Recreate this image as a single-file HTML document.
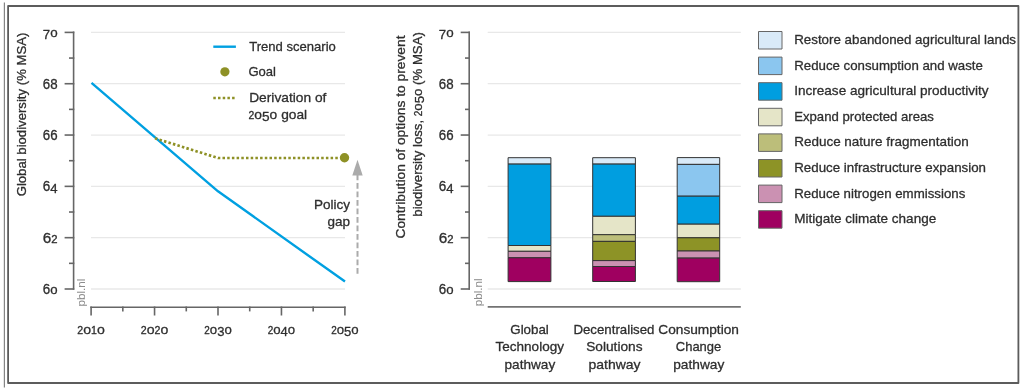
<!DOCTYPE html><html><head><meta charset="utf-8"><style>html,body{margin:0;padding:0;background:#fff;width:1024px;height:390px;overflow:hidden;position:relative} svg{will-change:transform} text{stroke:#2e2e2e;stroke-width:0.3}</style></head><body><svg width="1024" height="390" viewBox="0 0 1024 390" style="position:absolute;left:0;top:0;font-family:'Liberation Sans',sans-serif"><g stroke-linejoin="round">
<line x1="4.4" y1="2.5" x2="4.4" y2="387.5" stroke="#858585" stroke-width="1.2"/>
<rect x="8.1" y="6" width="1010.3" height="377" fill="none" stroke="#5c5c5c" stroke-width="1.8"/>
<line x1="91" y1="32.40" x2="345" y2="32.40" stroke="#e8e8e8" stroke-width="1.3"/>
<line x1="64.6" y1="32.40" x2="74.3" y2="32.40" stroke="#666" stroke-width="1.6"/>
<text x="57.6" y="37.30" font-size="14" fill="#2e2e2e" text-anchor="end" textLength="14.8" lengthAdjust="spacingAndGlyphs"><tspan font-size="13.4" dy="2.00">7</tspan><tspan font-size="13.6" dy="-2.00">o</tspan></text>
<line x1="91" y1="83.72" x2="345" y2="83.72" stroke="#e8e8e8" stroke-width="1.3"/>
<line x1="64.6" y1="83.72" x2="74.3" y2="83.72" stroke="#666" stroke-width="1.6"/>
<text x="57.6" y="88.62" font-size="14" fill="#2e2e2e" text-anchor="end" textLength="14.8" lengthAdjust="spacingAndGlyphs"><tspan font-size="13.8">6</tspan><tspan font-size="13.8">8</tspan></text>
<line x1="91" y1="135.04" x2="345" y2="135.04" stroke="#e8e8e8" stroke-width="1.3"/>
<line x1="64.6" y1="135.04" x2="74.3" y2="135.04" stroke="#666" stroke-width="1.6"/>
<text x="57.6" y="139.94" font-size="14" fill="#2e2e2e" text-anchor="end" textLength="14.8" lengthAdjust="spacingAndGlyphs"><tspan font-size="13.8">6</tspan><tspan font-size="13.8">6</tspan></text>
<line x1="91" y1="186.36" x2="345" y2="186.36" stroke="#e8e8e8" stroke-width="1.3"/>
<line x1="64.6" y1="186.36" x2="74.3" y2="186.36" stroke="#666" stroke-width="1.6"/>
<text x="57.6" y="191.26" font-size="14" fill="#2e2e2e" text-anchor="end" textLength="14.8" lengthAdjust="spacingAndGlyphs"><tspan font-size="13.8">6</tspan><tspan font-size="13.4" dy="2.00">4</tspan></text>
<line x1="91" y1="237.68" x2="345" y2="237.68" stroke="#e8e8e8" stroke-width="1.3"/>
<line x1="64.6" y1="237.68" x2="74.3" y2="237.68" stroke="#666" stroke-width="1.6"/>
<text x="57.6" y="242.58" font-size="14" fill="#2e2e2e" text-anchor="end" textLength="14.8" lengthAdjust="spacingAndGlyphs"><tspan font-size="13.8">6</tspan><tspan font-size="10.2">2</tspan></text>
<line x1="91" y1="289.00" x2="345" y2="289.00" stroke="#e8e8e8" stroke-width="1.3"/>
<line x1="64.6" y1="289.00" x2="74.3" y2="289.00" stroke="#666" stroke-width="1.6"/>
<text x="57.6" y="293.90" font-size="14" fill="#2e2e2e" text-anchor="end" textLength="14.8" lengthAdjust="spacingAndGlyphs"><tspan font-size="13.8">6</tspan><tspan font-size="13.6">o</tspan></text>
<line x1="69" y1="58.06" x2="74.3" y2="58.06" stroke="#666" stroke-width="1.6"/>
<line x1="69" y1="109.38" x2="74.3" y2="109.38" stroke="#666" stroke-width="1.6"/>
<line x1="69" y1="160.70" x2="74.3" y2="160.70" stroke="#666" stroke-width="1.6"/>
<line x1="69" y1="212.02" x2="74.3" y2="212.02" stroke="#666" stroke-width="1.6"/>
<line x1="69" y1="263.34" x2="74.3" y2="263.34" stroke="#666" stroke-width="1.6"/>
<line x1="73.6" y1="31.60" x2="73.6" y2="289.80" stroke="#666" stroke-width="1.6"/>
<line x1="90.3" y1="307.3" x2="345.6" y2="307.3" stroke="#666" stroke-width="1.6"/>
<line x1="91.10" y1="306.5" x2="91.10" y2="315.5" stroke="#666" stroke-width="1.6"/>
<text x="91.10" y="334" font-size="10" fill="#2e2e2e" text-anchor="middle" textLength="27.5" lengthAdjust="spacingAndGlyphs"><tspan font-size="10.2">2</tspan><tspan font-size="13.6">o</tspan><tspan font-size="10.2">1</tspan><tspan font-size="13.6">o</tspan></text>
<line x1="122.82" y1="306.5" x2="122.82" y2="311.4" stroke="#666" stroke-width="1.6"/>
<line x1="154.55" y1="306.5" x2="154.55" y2="315.5" stroke="#666" stroke-width="1.6"/>
<text x="154.55" y="334" font-size="10" fill="#2e2e2e" text-anchor="middle" textLength="27.5" lengthAdjust="spacingAndGlyphs"><tspan font-size="10.2">2</tspan><tspan font-size="13.6">o</tspan><tspan font-size="10.2">2</tspan><tspan font-size="13.6">o</tspan></text>
<line x1="186.28" y1="306.5" x2="186.28" y2="311.4" stroke="#666" stroke-width="1.6"/>
<line x1="218.00" y1="306.5" x2="218.00" y2="315.5" stroke="#666" stroke-width="1.6"/>
<text x="218.00" y="334" font-size="10" fill="#2e2e2e" text-anchor="middle" textLength="27.5" lengthAdjust="spacingAndGlyphs"><tspan font-size="10.2">2</tspan><tspan font-size="13.6">o</tspan><tspan font-size="13.4" dy="2.00">3</tspan><tspan font-size="13.6" dy="-2.00">o</tspan></text>
<line x1="249.72" y1="306.5" x2="249.72" y2="311.4" stroke="#666" stroke-width="1.6"/>
<line x1="281.45" y1="306.5" x2="281.45" y2="315.5" stroke="#666" stroke-width="1.6"/>
<text x="281.45" y="334" font-size="10" fill="#2e2e2e" text-anchor="middle" textLength="27.5" lengthAdjust="spacingAndGlyphs"><tspan font-size="10.2">2</tspan><tspan font-size="13.6">o</tspan><tspan font-size="13.4" dy="2.00">4</tspan><tspan font-size="13.6" dy="-2.00">o</tspan></text>
<line x1="313.18" y1="306.5" x2="313.18" y2="311.4" stroke="#666" stroke-width="1.6"/>
<line x1="344.90" y1="306.5" x2="344.90" y2="315.5" stroke="#666" stroke-width="1.6"/>
<text x="344.90" y="334" font-size="10" fill="#2e2e2e" text-anchor="middle" textLength="27.5" lengthAdjust="spacingAndGlyphs"><tspan font-size="10.2">2</tspan><tspan font-size="13.6">o</tspan><tspan font-size="13.4" dy="2.00">5</tspan><tspan font-size="13.6" dy="-2.00">o</tspan></text>
<text transform="translate(26,114.5) rotate(-90)" font-size="13.5" fill="#2e2e2e" text-anchor="middle" textLength="163.7" lengthAdjust="spacingAndGlyphs">Global biodiversity (% MSA)</text>
<text transform="translate(85.4,306.4) rotate(-90)" font-size="11" fill="#8c8c8c" style="stroke-width:0" textLength="27.7" lengthAdjust="spacingAndGlyphs">pbl.nl</text>
<polyline points="91.5,82.9 218,191.3 345,281.6" fill="none" stroke="#00a0e1" stroke-width="2.4" stroke-linejoin="round"/>
<polyline points="155,138.3 218,158 340,158" fill="none" stroke="#8e9126" stroke-width="2.7" stroke-dasharray="2.5 2.2"/>
<circle cx="344.5" cy="157.8" r="4.7" fill="#8e9126"/>
<line x1="357.5" y1="174.5" x2="357.5" y2="276" stroke="#ababab" stroke-width="2" stroke-dasharray="5.8 2.7"/>
<polygon points="357.5,159.7 352.3,175.5 362.7,175.5" fill="#ababab"/>
<text x="350" y="209.3" font-size="13.5" fill="#2e2e2e" text-anchor="end">Policy</text>
<text x="350" y="225.6" font-size="13.5" fill="#2e2e2e" text-anchor="end">gap</text>
<line x1="213.3" y1="46.7" x2="235.9" y2="46.7" stroke="#00a0e1" stroke-width="2.4"/>
<text x="249.2" y="51" font-size="13.5" fill="#2e2e2e" textLength="86.7" lengthAdjust="spacingAndGlyphs">Trend scenario</text>
<circle cx="224.9" cy="71.8" r="4.6" fill="#8e9126"/>
<text x="248.4" y="76.2" font-size="13.5" fill="#2e2e2e" textLength="27.6" lengthAdjust="spacingAndGlyphs">Goal</text>
<line x1="213.3" y1="98" x2="236" y2="98" stroke="#8e9126" stroke-width="2.7" stroke-dasharray="2.5 2.2"/>
<text x="249.2" y="102.3" font-size="13.5" fill="#2e2e2e" textLength="77.2" lengthAdjust="spacingAndGlyphs">Derivation of</text>
<text x="248.6" y="119" font-size="13.5" fill="#2e2e2e" textLength="58.5" lengthAdjust="spacingAndGlyphs"><tspan font-size="10.2">2</tspan><tspan font-size="13.6">o</tspan><tspan font-size="13.4" dy="2.00">5</tspan><tspan font-size="13.6" dy="-2.00">o</tspan><tspan font-size="13.5" dy="0"> goal</tspan></text>
<line x1="487.7" y1="32.40" x2="740.8" y2="32.40" stroke="#e8e8e8" stroke-width="1.3"/>
<line x1="460.7" y1="32.40" x2="469.9" y2="32.40" stroke="#666" stroke-width="1.6"/>
<text x="453.6" y="37.30" font-size="14" fill="#2e2e2e" text-anchor="end" textLength="14.8" lengthAdjust="spacingAndGlyphs"><tspan font-size="13.4" dy="2.00">7</tspan><tspan font-size="13.6" dy="-2.00">o</tspan></text>
<line x1="487.7" y1="83.72" x2="740.8" y2="83.72" stroke="#e8e8e8" stroke-width="1.3"/>
<line x1="460.7" y1="83.72" x2="469.9" y2="83.72" stroke="#666" stroke-width="1.6"/>
<text x="453.6" y="88.62" font-size="14" fill="#2e2e2e" text-anchor="end" textLength="14.8" lengthAdjust="spacingAndGlyphs"><tspan font-size="13.8">6</tspan><tspan font-size="13.8">8</tspan></text>
<line x1="487.7" y1="135.04" x2="740.8" y2="135.04" stroke="#e8e8e8" stroke-width="1.3"/>
<line x1="460.7" y1="135.04" x2="469.9" y2="135.04" stroke="#666" stroke-width="1.6"/>
<text x="453.6" y="139.94" font-size="14" fill="#2e2e2e" text-anchor="end" textLength="14.8" lengthAdjust="spacingAndGlyphs"><tspan font-size="13.8">6</tspan><tspan font-size="13.8">6</tspan></text>
<line x1="487.7" y1="186.36" x2="740.8" y2="186.36" stroke="#e8e8e8" stroke-width="1.3"/>
<line x1="460.7" y1="186.36" x2="469.9" y2="186.36" stroke="#666" stroke-width="1.6"/>
<text x="453.6" y="191.26" font-size="14" fill="#2e2e2e" text-anchor="end" textLength="14.8" lengthAdjust="spacingAndGlyphs"><tspan font-size="13.8">6</tspan><tspan font-size="13.4" dy="2.00">4</tspan></text>
<line x1="487.7" y1="237.68" x2="740.8" y2="237.68" stroke="#e8e8e8" stroke-width="1.3"/>
<line x1="460.7" y1="237.68" x2="469.9" y2="237.68" stroke="#666" stroke-width="1.6"/>
<text x="453.6" y="242.58" font-size="14" fill="#2e2e2e" text-anchor="end" textLength="14.8" lengthAdjust="spacingAndGlyphs"><tspan font-size="13.8">6</tspan><tspan font-size="10.2">2</tspan></text>
<line x1="487.7" y1="289.00" x2="740.8" y2="289.00" stroke="#e8e8e8" stroke-width="1.3"/>
<line x1="460.7" y1="289.00" x2="469.9" y2="289.00" stroke="#666" stroke-width="1.6"/>
<text x="453.6" y="293.90" font-size="14" fill="#2e2e2e" text-anchor="end" textLength="14.8" lengthAdjust="spacingAndGlyphs"><tspan font-size="13.8">6</tspan><tspan font-size="13.6">o</tspan></text>
<line x1="465" y1="58.06" x2="469.9" y2="58.06" stroke="#666" stroke-width="1.6"/>
<line x1="465" y1="109.38" x2="469.9" y2="109.38" stroke="#666" stroke-width="1.6"/>
<line x1="465" y1="160.70" x2="469.9" y2="160.70" stroke="#666" stroke-width="1.6"/>
<line x1="465" y1="212.02" x2="469.9" y2="212.02" stroke="#666" stroke-width="1.6"/>
<line x1="465" y1="263.34" x2="469.9" y2="263.34" stroke="#666" stroke-width="1.6"/>
<line x1="469.2" y1="31.60" x2="469.2" y2="289.80" stroke="#666" stroke-width="1.6"/>
<line x1="487.7" y1="306.9" x2="740.8" y2="306.9" stroke="#737373" stroke-width="1.6"/>
<text transform="translate(405.1,137) rotate(-90)" font-size="13.5" fill="#2e2e2e" text-anchor="middle" textLength="203" lengthAdjust="spacingAndGlyphs">Contribution of options to prevent</text>
<text transform="translate(422,124.4) rotate(-90)" font-size="13.5" fill="#2e2e2e" text-anchor="middle" textLength="184.6" lengthAdjust="spacingAndGlyphs">biodiversity loss, <tspan font-size="10.2">2</tspan><tspan font-size="13.6">o</tspan><tspan font-size="13.4" dy="2.00">5</tspan><tspan font-size="13.6" dy="-2.00">o</tspan><tspan font-size="13.5"> (% MSA)</tspan></text>
<text transform="translate(481.8,306.2) rotate(-90)" font-size="11" fill="#8c8c8c" style="stroke-width:0" textLength="27.7" lengthAdjust="spacingAndGlyphs">pbl.nl</text>
<rect x="508.10" y="157.70" width="42.80" height="6.40" fill="#d9eaf8" stroke="#333" stroke-width="1"/>
<rect x="508.10" y="164.10" width="42.80" height="81.40" fill="#009ee0" stroke="#333" stroke-width="1"/>
<rect x="508.10" y="245.50" width="42.80" height="5.80" fill="#e5e5c8" stroke="#333" stroke-width="1"/>
<rect x="508.10" y="251.30" width="42.80" height="6.50" fill="#cb91b2" stroke="#333" stroke-width="1"/>
<rect x="508.10" y="257.80" width="42.80" height="23.80" fill="#9f0060" stroke="#333" stroke-width="1"/>
<rect x="592.70" y="157.70" width="42.70" height="6.40" fill="#d9eaf8" stroke="#333" stroke-width="1"/>
<rect x="592.70" y="164.10" width="42.70" height="52.20" fill="#009ee0" stroke="#333" stroke-width="1"/>
<rect x="592.70" y="216.30" width="42.70" height="18.40" fill="#e5e5c8" stroke="#333" stroke-width="1"/>
<rect x="592.70" y="234.70" width="42.70" height="6.70" fill="#bcbe7a" stroke="#333" stroke-width="1"/>
<rect x="592.70" y="241.40" width="42.70" height="19.20" fill="#8d9326" stroke="#333" stroke-width="1"/>
<rect x="592.70" y="260.60" width="42.70" height="5.90" fill="#cb91b2" stroke="#333" stroke-width="1"/>
<rect x="592.70" y="266.50" width="42.70" height="15.00" fill="#9f0060" stroke="#333" stroke-width="1"/>
<rect x="677.20" y="157.60" width="42.50" height="6.80" fill="#d9eaf8" stroke="#333" stroke-width="1"/>
<rect x="677.20" y="164.40" width="42.50" height="31.80" fill="#8bc6ef" stroke="#333" stroke-width="1"/>
<rect x="677.20" y="196.20" width="42.50" height="28.00" fill="#009ee0" stroke="#333" stroke-width="1"/>
<rect x="677.20" y="224.20" width="42.50" height="13.60" fill="#e5e5c8" stroke="#333" stroke-width="1"/>
<rect x="677.20" y="237.80" width="42.50" height="13.20" fill="#8d9326" stroke="#333" stroke-width="1"/>
<rect x="677.20" y="251.00" width="42.50" height="7.10" fill="#cb91b2" stroke="#333" stroke-width="1"/>
<rect x="677.20" y="258.10" width="42.50" height="23.60" fill="#9f0060" stroke="#333" stroke-width="1"/>
<text x="529.55" y="334.00" font-size="13.5" fill="#2e2e2e" text-anchor="middle" textLength="38.5" lengthAdjust="spacingAndGlyphs">Global</text>
<text x="529.75" y="351.40" font-size="13.5" fill="#2e2e2e" text-anchor="middle" textLength="68.5" lengthAdjust="spacingAndGlyphs">Technology</text>
<text x="529.85" y="368.80" font-size="13.5" fill="#2e2e2e" text-anchor="middle" textLength="50.7" lengthAdjust="spacingAndGlyphs">pathway</text>
<text x="613.95" y="334.00" font-size="13.5" fill="#2e2e2e" text-anchor="middle" textLength="81.1" lengthAdjust="spacingAndGlyphs">Decentralised</text>
<text x="614.35" y="351.40" font-size="13.5" fill="#2e2e2e" text-anchor="middle" textLength="56.3" lengthAdjust="spacingAndGlyphs">Solutions</text>
<text x="614.50" y="368.80" font-size="13.5" fill="#2e2e2e" text-anchor="middle" textLength="52.0" lengthAdjust="spacingAndGlyphs">pathway</text>
<text x="698.60" y="334.00" font-size="13.5" fill="#2e2e2e" text-anchor="middle" textLength="80.6" lengthAdjust="spacingAndGlyphs">Consumption</text>
<text x="698.55" y="351.40" font-size="13.5" fill="#2e2e2e" text-anchor="middle" textLength="45.5" lengthAdjust="spacingAndGlyphs">Change</text>
<text x="698.75" y="368.80" font-size="13.5" fill="#2e2e2e" text-anchor="middle" textLength="51.1" lengthAdjust="spacingAndGlyphs">pathway</text>
<rect x="758.5" y="31.50" width="23.5" height="17.5" fill="#d9eaf8" stroke="#666" stroke-width="1"/>
<text x="794.2" y="44.20" font-size="13.5" fill="#2e2e2e" textLength="221.8" lengthAdjust="spacingAndGlyphs">Restore abandoned agricultural lands</text>
<rect x="758.5" y="57.10" width="23.5" height="17.5" fill="#8bc6ef" stroke="#666" stroke-width="1"/>
<text x="794.2" y="69.75" font-size="13.5" fill="#2e2e2e" textLength="188.7" lengthAdjust="spacingAndGlyphs">Reduce consumption and waste</text>
<rect x="758.5" y="82.70" width="23.5" height="17.5" fill="#009ee0" stroke="#666" stroke-width="1"/>
<text x="794.2" y="95.30" font-size="13.5" fill="#2e2e2e" textLength="194.4" lengthAdjust="spacingAndGlyphs">Increase agricultural productivity</text>
<rect x="758.5" y="108.30" width="23.5" height="17.5" fill="#e5e5c8" stroke="#666" stroke-width="1"/>
<text x="794.2" y="120.85" font-size="13.5" fill="#2e2e2e" textLength="139.7" lengthAdjust="spacingAndGlyphs">Expand protected areas</text>
<rect x="758.5" y="133.90" width="23.5" height="17.5" fill="#bcbe7a" stroke="#666" stroke-width="1"/>
<text x="794.2" y="146.40" font-size="13.5" fill="#2e2e2e" textLength="174.5" lengthAdjust="spacingAndGlyphs">Reduce nature fragmentation</text>
<rect x="758.5" y="159.50" width="23.5" height="17.5" fill="#8d9326" stroke="#666" stroke-width="1"/>
<text x="794.2" y="171.95" font-size="13.5" fill="#2e2e2e" textLength="191.8" lengthAdjust="spacingAndGlyphs">Reduce infrastructure expansion</text>
<rect x="758.5" y="185.10" width="23.5" height="17.5" fill="#cb91b2" stroke="#666" stroke-width="1"/>
<text x="794.2" y="197.50" font-size="13.5" fill="#2e2e2e" textLength="171.1" lengthAdjust="spacingAndGlyphs">Reduce nitrogen emmissions</text>
<rect x="758.5" y="210.70" width="23.5" height="17.5" fill="#9f0060" stroke="#666" stroke-width="1"/>
<text x="794.2" y="223.05" font-size="13.5" fill="#2e2e2e" textLength="142.0" lengthAdjust="spacingAndGlyphs">Mitigate climate change</text>
</g></svg></body></html>
